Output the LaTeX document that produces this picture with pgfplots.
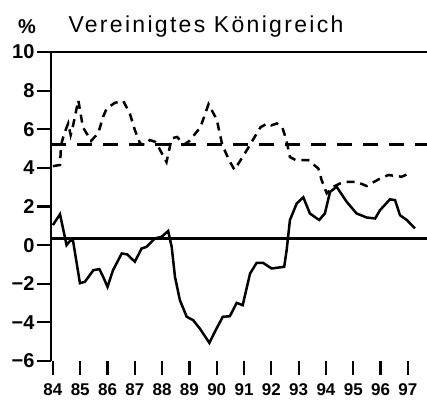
\documentclass[border=0pt]{standalone}
\usepackage{fontspec}
\setmainfont{Liberation Sans}
\usepackage{pgfplots}
\pgfplotsset{compat=1.18}

% solid series
\pgfplotstableread{
x y
84.00 1.04
84.26 1.60
84.50 0.00
84.65 0.26
84.74 0.20
84.99 -1.97
85.17 -1.90
85.48 -1.30
85.70 -1.24
85.84 -1.64
86.00 -2.16
86.20 -1.30
86.52 -0.43
86.72 -0.48
87.00 -0.86
87.25 -0.17
87.43 -0.09
87.74 0.35
87.98 0.43
88.22 0.73
88.35 -0.09
88.47 -1.64
88.65 -2.85
88.90 -3.71
89.14 -3.89
89.38 -4.32
89.73 -5.06
89.93 -4.49
90.22 -3.71
90.48 -3.68
90.73 -2.99
90.95 -3.11
91.22 -1.47
91.46 -0.92
91.70 -0.92
92.01 -1.21
92.47 -1.12
92.56 -0.26
92.68 1.30
92.93 2.16
93.17 2.48
93.41 1.64
93.75 1.30
93.96 1.64
94.15 2.76
94.39 3.02
94.76 2.24
95.12 1.64
95.49 1.43
95.80 1.38
95.98 1.81
96.34 2.37
96.53 2.33
96.71 1.55
96.96 1.30
97.26 0.87
}\solid

% dashed series
\pgfplotstableread{
x y
84.00 4.09
84.26 4.15
84.30 5.20
84.42 5.80
84.56 6.30
84.65 5.70
84.74 6.20
84.93 7.50
85.10 6.10
85.40 5.40
85.66 5.80
85.84 6.65
85.97 7.08
86.27 7.37
86.58 7.46
86.82 6.80
87.00 5.96
87.19 5.27
87.37 5.18
87.55 5.44
87.74 5.35
87.86 5.10
88.16 4.30
88.35 5.53
88.55 5.60
88.80 5.20
89.00 5.40
89.40 6.10
89.70 7.30
90.00 6.50
90.20 5.20
90.45 4.40
90.65 3.90
91.05 4.80
91.60 6.10
91.85 6.30
92.00 6.20
92.20 6.30
92.40 6.10
92.55 5.44
92.68 4.56
92.90 4.40
93.35 4.40
93.72 3.97
93.84 3.37
94.03 2.68
94.27 3.02
94.64 3.28
95.12 3.28
95.49 3.06
95.92 3.40
96.28 3.63
96.77 3.54
97.14 3.77
}\dashed

\begin{document}
\begin{tikzpicture}
\useasboundingbox (-51pt,-39pt) rectangle (376pt,361pt);
\begin{axis}[
    at={(0,0)}, anchor=south west,
    width=376pt, height=309pt, scale only axis,
    xmin=83.93, xmax=97.7, ymin=-6, ymax=10,
    xtick={84,...,97},
    ytick={-6,-4,...,10},
    yticklabels={−6,−4,−2,0,2,4,6,8,10},
    xtick pos=bottom, ytick pos=left, tick align=outside,
    major tick length=14pt,
    tick style={line width=2.2pt, black},
    axis line style={draw=none},
    xticklabel style={font=\bfseries\fontsize{17}{17}\selectfont, yshift=-5pt},
    yticklabel style={font=\bfseries\fontsize{20}{20}\selectfont, xshift=1pt},
    /pgf/number format/assume math mode=true,
    clip=false,
]
\draw[line width=2.6pt] (rel axis cs:0,0) -- (rel axis cs:0,1) -- (rel axis cs:1,1);
\addplot[black, line width=2.6pt] coordinates {(83.93,0.35) (97.7,0.35)};
\addplot[black, line width=2.6pt, dash pattern=on 15pt off 11pt] coordinates {(83.93,5.2) (97.7,5.2)};
\addplot[black, line width=2.5pt] table[x=x, y=y] {\solid};
\addplot[black, line width=2.5pt, dash pattern=on 8pt off 6pt] table[x=x, y=y] {\dashed};
\node[anchor=base west, font=\fontsize{23}{23}\selectfont\addfontfeature{LetterSpace=10}]
    at (rel axis cs:0,1) [xshift=14pt, yshift=20pt] {Vereinigtes Königreich};
\node[anchor=base, font=\bfseries\fontsize{20}{20}\selectfont]
    at (rel axis cs:0,1) [xshift=-24pt, yshift=19pt] {\%};
\end{axis}
\end{tikzpicture}
\end{document}
